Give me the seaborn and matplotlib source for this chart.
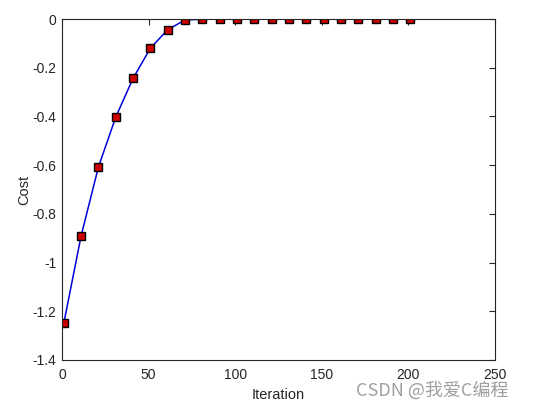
import numpy as np
import pandas as pd
import matplotlib
matplotlib.use('Agg')
import matplotlib.pyplot as plt
import seaborn as sns

iterations = [1, 11, 21, 31, 41, 51, 61, 71, 81, 91, 101, 111, 121, 131, 141,
              151, 161, 171, 181, 191, 201]
cost = [-1.25, -0.891, -0.608, -0.403, -0.244, -0.120, -0.044, -0.004, -0.001,
        0.0, 0.0, 0.0, 0.0, 0.0, 0.0, 0.0, 0.0, 0.0, 0.0, 0.0, 0.0]
x_ticks = [0, 50, 100, 150, 200, 250]
y_ticks = [0, -0.2, -0.4, -0.6, -0.8, -1, -1.2, -1.4]
y_labels = ['0', '-0.2', '-0.4', '-0.6', '-0.8', '-1', '-1.2', '-1.4']

sns.set_style('white')
plt.rcParams['font.family'] = ['Liberation Sans', 'DejaVu Sans']

df = pd.DataFrame({'Iteration': iterations, 'Cost': cost})

fig = plt.figure(figsize=(5.46, 4.07), dpi=100)
ax = fig.add_axes([0.1136, 0.1155, 0.7930, 0.8378])
sns.lineplot(data=df, x='Iteration', y='Cost', ax=ax, color='#0000dd',
             linewidth=1.1, marker='s', markersize=5.3,
             markerfacecolor='#cc0000', markeredgecolor='black',
             markeredgewidth=1.0)

ax.set_xlim(0, 250)
ax.set_ylim(-1.4, 0)
ax.set_xticks(x_ticks)
ax.set_xticklabels([str(t) for t in x_ticks])
ax.set_yticks(y_ticks)
ax.set_yticklabels(y_labels)
ax.tick_params(direction='in', top=True, right=True, length=4, width=0.8,
               labelsize=10, colors='#262626')
ax.tick_params(axis='x', pad=6)
ax.tick_params(axis='y', pad=4)
ax.set_xlabel('Iteration', fontsize=10.5, color='#262626', labelpad=4)
ax.set_ylabel('Cost', fontsize=10.5, color='#262626', labelpad=1)
for s in ax.spines.values():
    s.set_color('#262626')
    s.set_linewidth(0.8)

fig.text(0.652, 0.040, 'CSDN @我爱C编程', fontsize=13, color='#a0a0a0',
         va='center', family=['Noto Sans CJK SC', 'DejaVu Sans'])

fig.savefig('out.png', dpi=100)
